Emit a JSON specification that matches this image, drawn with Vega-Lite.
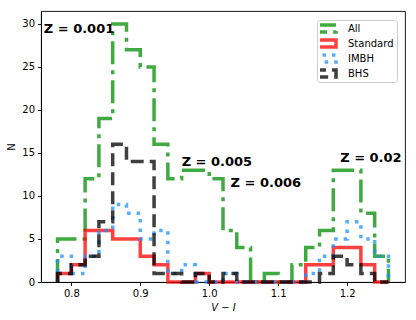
{
  "$schema": "https://vega.github.io/schema/vega-lite/v6.json",
  "width": 364,
  "height": 271,
  "autosize": {"type": "none"},
  "padding": {"left": 41, "top": 11, "right": 11, "bottom": 38},
  "config": {
    "view": {"stroke": "black", "strokeWidth": 0.9},
    "font": "DejaVu Sans",
    "axis": {
      "grid": false,
      "domainColor": "black",
      "domainWidth": 0.9,
      "tickColor": "black",
      "tickWidth": 0.9,
      "tickSize": 3.5,
      "labelFont": "DejaVu Sans",
      "labelFontSize": 10,
      "labelColor": "black",
      "labelPadding": 3,
      "titleFont": "DejaVu Sans",
      "titleFontSize": 10,
      "titleFontWeight": "normal",
      "titleColor": "black"
    },
    "legend": {
      "orient": "none",
      "legendX": 276,
      "legendY": 9,
      "padding": 3,
      "strokeColor": "#cccccc",
      "fillColor": "rgba(255,255,255,0.8)",
      "cornerRadius": 3,
      "labelFont": "DejaVu Sans",
      "labelFontSize": 10,
      "labelColor": "black",
      "symbolType": "M-3.3,-1H3.3V1H-3.3Z",
      "symbolSize": 49,
      "symbolStrokeWidth": 3.5,
      "symbolOffset": -1,
      "labelOffset": 18,
      "clipHeight": 11,
      "rowPadding": 4
    }
  },
  "layer": [
    {
      "data": {
        "values": [
          {"s": "All", "x": 0.78, "n": 0, "k": 0},
          {"s": "All", "x": 0.78, "n": 5, "k": 1},
          {"s": "All", "x": 0.8, "n": 5, "k": 2},
          {"s": "All", "x": 0.82, "n": 12, "k": 3},
          {"s": "All", "x": 0.84, "n": 19, "k": 4},
          {"s": "All", "x": 0.86, "n": 30, "k": 5},
          {"s": "All", "x": 0.88, "n": 27, "k": 6},
          {"s": "All", "x": 0.9, "n": 25, "k": 7},
          {"s": "All", "x": 0.92, "n": 16, "k": 8},
          {"s": "All", "x": 0.94, "n": 12, "k": 9},
          {"s": "All", "x": 0.96, "n": 13, "k": 10},
          {"s": "All", "x": 0.98, "n": 13, "k": 11},
          {"s": "All", "x": 1.0, "n": 12, "k": 12},
          {"s": "All", "x": 1.02, "n": 6, "k": 13},
          {"s": "All", "x": 1.04, "n": 4, "k": 14},
          {"s": "All", "x": 1.06, "n": 0, "k": 15},
          {"s": "All", "x": 1.08, "n": 1, "k": 16},
          {"s": "All", "x": 1.1, "n": 0, "k": 17},
          {"s": "All", "x": 1.12, "n": 2, "k": 18},
          {"s": "All", "x": 1.14, "n": 4, "k": 19},
          {"s": "All", "x": 1.16, "n": 6, "k": 20},
          {"s": "All", "x": 1.18, "n": 13, "k": 21},
          {"s": "All", "x": 1.2, "n": 13, "k": 22},
          {"s": "All", "x": 1.22, "n": 8, "k": 23},
          {"s": "All", "x": 1.24, "n": 3, "k": 24},
          {"s": "All", "x": 1.26, "n": 3, "k": 25},
          {"s": "All", "x": 1.26, "n": 0, "k": 26},

          {"s": "Standard", "x": 0.78, "n": 0, "k": 0},
          {"s": "Standard", "x": 0.78, "n": 1, "k": 1},
          {"s": "Standard", "x": 0.8, "n": 2, "k": 2},
          {"s": "Standard", "x": 0.82, "n": 6, "k": 3},
          {"s": "Standard", "x": 0.84, "n": 6, "k": 4},
          {"s": "Standard", "x": 0.86, "n": 5, "k": 5},
          {"s": "Standard", "x": 0.88, "n": 5, "k": 6},
          {"s": "Standard", "x": 0.9, "n": 3, "k": 7},
          {"s": "Standard", "x": 0.92, "n": 2, "k": 8},
          {"s": "Standard", "x": 0.94, "n": 0, "k": 9},
          {"s": "Standard", "x": 0.96, "n": 0, "k": 10},
          {"s": "Standard", "x": 0.98, "n": 1, "k": 11},
          {"s": "Standard", "x": 1.0, "n": 0, "k": 12},
          {"s": "Standard", "x": 1.02, "n": 0, "k": 13},
          {"s": "Standard", "x": 1.04, "n": 0, "k": 14},
          {"s": "Standard", "x": 1.06, "n": 0, "k": 15},
          {"s": "Standard", "x": 1.08, "n": 0, "k": 16},
          {"s": "Standard", "x": 1.1, "n": 0, "k": 17},
          {"s": "Standard", "x": 1.12, "n": 0, "k": 18},
          {"s": "Standard", "x": 1.14, "n": 2, "k": 19},
          {"s": "Standard", "x": 1.16, "n": 2, "k": 20},
          {"s": "Standard", "x": 1.18, "n": 4, "k": 21},
          {"s": "Standard", "x": 1.2, "n": 4, "k": 22},
          {"s": "Standard", "x": 1.22, "n": 2, "k": 23},
          {"s": "Standard", "x": 1.24, "n": 0, "k": 24},
          {"s": "Standard", "x": 1.26, "n": 0, "k": 25},
          {"s": "Standard", "x": 1.26, "n": 0, "k": 26},

          {"s": "IMBH", "x": 0.78, "n": 0, "k": 0},
          {"s": "IMBH", "x": 0.78, "n": 3, "k": 1},
          {"s": "IMBH", "x": 0.8, "n": 1, "k": 2},
          {"s": "IMBH", "x": 0.82, "n": 3, "k": 3},
          {"s": "IMBH", "x": 0.84, "n": 6, "k": 4},
          {"s": "IMBH", "x": 0.86, "n": 9, "k": 5},
          {"s": "IMBH", "x": 0.88, "n": 8, "k": 6},
          {"s": "IMBH", "x": 0.9, "n": 5, "k": 7},
          {"s": "IMBH", "x": 0.92, "n": 6, "k": 8},
          {"s": "IMBH", "x": 0.94, "n": 1, "k": 9},
          {"s": "IMBH", "x": 0.96, "n": 2, "k": 10},
          {"s": "IMBH", "x": 0.98, "n": 0, "k": 11},
          {"s": "IMBH", "x": 1.0, "n": 0, "k": 12},
          {"s": "IMBH", "x": 1.02, "n": 1, "k": 13},
          {"s": "IMBH", "x": 1.04, "n": 0, "k": 14},
          {"s": "IMBH", "x": 1.06, "n": 0, "k": 15},
          {"s": "IMBH", "x": 1.08, "n": 0, "k": 16},
          {"s": "IMBH", "x": 1.1, "n": 0, "k": 17},
          {"s": "IMBH", "x": 1.12, "n": 0, "k": 18},
          {"s": "IMBH", "x": 1.14, "n": 1, "k": 19},
          {"s": "IMBH", "x": 1.16, "n": 3, "k": 20},
          {"s": "IMBH", "x": 1.18, "n": 5, "k": 21},
          {"s": "IMBH", "x": 1.2, "n": 7, "k": 22},
          {"s": "IMBH", "x": 1.22, "n": 5, "k": 23},
          {"s": "IMBH", "x": 1.24, "n": 3, "k": 24},
          {"s": "IMBH", "x": 1.26, "n": 3, "k": 25},
          {"s": "IMBH", "x": 1.26, "n": 0, "k": 26},

          {"s": "BHS", "x": 0.78, "n": 0, "k": 0},
          {"s": "BHS", "x": 0.78, "n": 1, "k": 1},
          {"s": "BHS", "x": 0.8, "n": 2, "k": 2},
          {"s": "BHS", "x": 0.82, "n": 3, "k": 3},
          {"s": "BHS", "x": 0.84, "n": 7, "k": 4},
          {"s": "BHS", "x": 0.86, "n": 16, "k": 5},
          {"s": "BHS", "x": 0.88, "n": 14, "k": 6},
          {"s": "BHS", "x": 0.9, "n": 14, "k": 7},
          {"s": "BHS", "x": 0.92, "n": 1, "k": 8},
          {"s": "BHS", "x": 0.94, "n": 1, "k": 9},
          {"s": "BHS", "x": 0.96, "n": 0, "k": 10},
          {"s": "BHS", "x": 0.98, "n": 1, "k": 11},
          {"s": "BHS", "x": 1.0, "n": 0, "k": 12},
          {"s": "BHS", "x": 1.02, "n": 1, "k": 13},
          {"s": "BHS", "x": 1.04, "n": 0, "k": 14},
          {"s": "BHS", "x": 1.06, "n": 0, "k": 15},
          {"s": "BHS", "x": 1.08, "n": 0, "k": 16},
          {"s": "BHS", "x": 1.1, "n": 0, "k": 17},
          {"s": "BHS", "x": 1.12, "n": 0, "k": 18},
          {"s": "BHS", "x": 1.14, "n": 0, "k": 19},
          {"s": "BHS", "x": 1.16, "n": 1, "k": 20},
          {"s": "BHS", "x": 1.18, "n": 3, "k": 21},
          {"s": "BHS", "x": 1.2, "n": 2, "k": 22},
          {"s": "BHS", "x": 1.22, "n": 1, "k": 23},
          {"s": "BHS", "x": 1.24, "n": 0, "k": 24},
          {"s": "BHS", "x": 1.26, "n": 0, "k": 25},
          {"s": "BHS", "x": 1.26, "n": 0, "k": 26}
        ]
      },
      "mark": {"type": "line", "interpolate": "step-after", "strokeWidth": 3.5, "strokeCap": "butt"},
      "encoding": {
        "x": {
          "field": "x",
          "type": "quantitative",
          "scale": {"domain": [0.756, 1.284], "nice": false, "zero": false},
          "axis": {"values": [0.8, 0.9, 1.0, 1.1, 1.2], "format": ".1f", "title": "V − I", "titleFontStyle": "italic", "titlePadding": 4}
        },
        "y": {
          "field": "n",
          "type": "quantitative",
          "scale": {"domain": [0, 31.5], "nice": false},
          "axis": {"values": [0, 5, 10, 15, 20, 25, 30], "title": "N", "titlePadding": 5}
        },
        "color": {
          "field": "s",
          "type": "nominal",
          "scale": {
            "domain": ["All", "Standard", "IMBH", "BHS"],
            "range": ["rgba(44,160,44,0.9)", "rgba(255,0,0,0.75)", "rgba(30,144,255,0.75)", "rgba(0,0,0,0.75)"]
          },
          "legend": {"title": null}
        },
        "strokeDash": {
          "field": "s",
          "type": "nominal",
          "scale": {
            "domain": ["All", "Standard", "IMBH", "BHS"],
            "range": [[23, 6, 4, 6], [1, 0], [3.5, 6], [13, 6]]
          },
          "legend": {"title": null}
        },
        "order": {"field": "k", "type": "quantitative"}
      }
    },
    {
      "data": {
        "values": [
          {"label": "Z = 0.001", "x": 0.76, "y": 29},
          {"label": "Z = 0.005", "x": 0.96, "y": 13.5},
          {"label": "Z = 0.006", "x": 1.031, "y": 11},
          {"label": "Z = 0.02", "x": 1.19, "y": 14}
        ]
      },
      "mark": {"type": "text", "align": "left", "baseline": "alphabetic", "font": "DejaVu Sans", "fontSize": 13, "fontWeight": "bold", "color": "black"},
      "encoding": {
        "x": {"field": "x", "type": "quantitative"},
        "y": {"field": "y", "type": "quantitative"},
        "text": {"field": "label"}
      }
    }
  ]
}
